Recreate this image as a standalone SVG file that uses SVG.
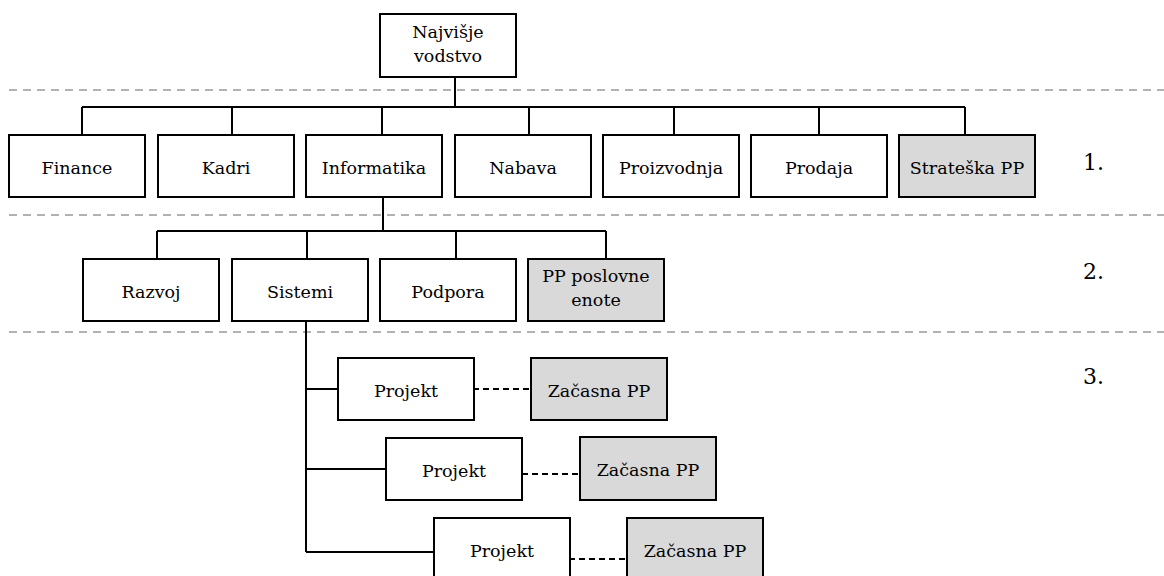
<svg xmlns="http://www.w3.org/2000/svg" width="1164" height="576" viewBox="0 0 1164 576" font-family="DejaVu Serif, serif">
  <style>
    .box { fill: #ffffff; stroke: #000000; stroke-width: 2; }
    .pp { fill: #d9d9d9; stroke: #000000; stroke-width: 2; }
    .lbl { font-size: 17.5px; fill: #000000; text-anchor: middle; }
    .lvl { font-size: 22px; fill: #000000; }
    .tier { stroke: #999999; stroke-width: 1.6; stroke-dasharray: 8 6; fill: none; }
    .wire { stroke: #000000; stroke-width: 2; fill: none; }
    .temp { stroke: #000000; stroke-width: 2; stroke-dasharray: 6 4; fill: none; }
  </style>
  <rect width="1164" height="576" fill="#ffffff"/>

  <!-- level separators -->
  <g id="tiers">
    <line class="tier" x1="9" y1="90" x2="1164" y2="90"/>
    <line class="tier" x1="9" y1="215" x2="1164" y2="215"/>
    <line class="tier" x1="9" y1="332" x2="1164" y2="332"/>
  </g>

  <!-- connectors -->
  <g id="connectors">
    <!-- top management to level 1 -->
    <path class="wire" d="M455 77 V107 M82 107 H965 M82 107 V135 M232 107 V135 M382 107 V135 M529 107 V135 M674 107 V135 M819 107 V135 M965 107 V135"/>
    <!-- Informatika to level 2 -->
    <path class="wire" d="M383 197 V231 M157 231 H606 M157 231 V259 M307 231 V259 M456 231 V259 M606 231 V259"/>
    <!-- Sistemi to projects -->
    <path class="wire" d="M306 321 V552 M306 389 H338 M306 469 H386 M306 552 H434"/>
    <!-- projects to temporary units -->
    <path class="temp" d="M473 389 H531"/>
    <path class="temp" d="M522 474 H580"/>
    <path class="temp" d="M569 559 H627"/>
  </g>

  <g id="top">
    <rect class="box" x="380" y="14" width="136" height="63"/>
    <text class="lbl" x="448" y="38">Najvišje</text>
    <text class="lbl" x="448" y="62">vodstvo</text>
  </g>

  <!-- level 1 -->
  <g id="finance"><rect class="box" x="9" y="135" width="136" height="62"/><text class="lbl" x="77" y="174">Finance</text></g>
  <g id="kadri"><rect class="box" x="158" y="135" width="136" height="62"/><text class="lbl" x="226" y="174">Kadri</text></g>
  <g id="informatika"><rect class="box" x="306" y="135" width="136" height="62"/><text class="lbl" x="374" y="174">Informatika</text></g>
  <g id="nabava"><rect class="box" x="455" y="135" width="136" height="62"/><text class="lbl" x="523" y="174">Nabava</text></g>
  <g id="proizvodnja"><rect class="box" x="603" y="135" width="136" height="62"/><text class="lbl" x="671" y="174">Proizvodnja</text></g>
  <g id="prodaja"><rect class="box" x="751" y="135" width="136" height="62"/><text class="lbl" x="819" y="174">Prodaja</text></g>
  <g id="strateska-pp"><rect class="pp" x="899" y="135" width="136" height="62"/><text class="lbl" x="967" y="174">Strateška PP</text></g>

  <!-- level 2 -->
  <g id="razvoj"><rect class="box" x="83" y="259" width="136" height="62"/><text class="lbl" x="151" y="298">Razvoj</text></g>
  <g id="sistemi"><rect class="box" x="232" y="259" width="136" height="62"/><text class="lbl" x="300" y="298">Sistemi</text></g>
  <g id="podpora"><rect class="box" x="380" y="259" width="136" height="62"/><text class="lbl" x="448" y="298">Podpora</text></g>
  <g id="pp-poslovne-enote"><rect class="pp" x="528" y="259" width="136" height="62"/><text class="lbl" x="596" y="282">PP poslovne</text><text class="lbl" x="596" y="306">enote</text></g>

  <!-- level 3 -->
  <g id="projekt-1"><rect class="box" x="338" y="358" width="136" height="62"/><text class="lbl" x="406" y="397">Projekt</text></g>
  <g id="zacasna-pp-1"><rect class="pp" x="531" y="358" width="136" height="62"/><text class="lbl" x="599" y="397">Začasna PP</text></g>
  <g id="projekt-2"><rect class="box" x="386" y="438" width="136" height="62"/><text class="lbl" x="454" y="477">Projekt</text></g>
  <g id="zacasna-pp-2"><rect class="pp" x="580" y="437" width="136" height="63"/><text class="lbl" x="648" y="476">Začasna PP</text></g>
  <g id="projekt-3"><rect class="box" x="434" y="518" width="136" height="62"/><text class="lbl" x="502" y="557">Projekt</text></g>
  <g id="zacasna-pp-3"><rect class="pp" x="627" y="518" width="136" height="62"/><text class="lbl" x="695" y="557">Začasna PP</text></g>

  <!-- level numbers -->
  <g id="levels">
    <text class="lvl" x="1083" y="170">1.</text>
    <text class="lvl" x="1083" y="279">2.</text>
    <text class="lvl" x="1083" y="384">3.</text>
  </g>
</svg>
